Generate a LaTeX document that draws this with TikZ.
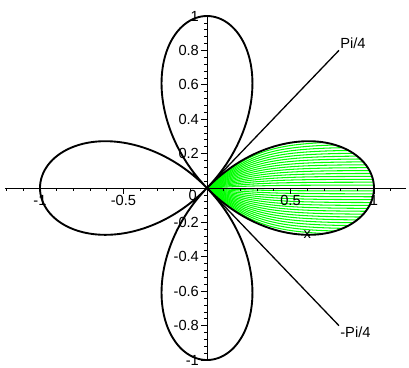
\documentclass[tikz,border=0pt]{standalone}
\usepackage{fontspec}
\setmainfont{Liberation Sans}
\begin{document}
\begin{tikzpicture}[x=5cm,y=5.15cm,
  curve/.style={line width=1.6pt,line join=round},
  fillline/.style={green,line width=0.9pt},
  raystyle/.style={line width=1.1pt},
  axis/.style={line width=0.6pt},
  lbl/.style={inner sep=1pt,font=\fontsize{12.5}{14}\selectfont}]
  \useasboundingbox (-1.2395,-1.0407) rectangle (1.2096,1.093);
  % shaded leaf between -Pi/4 and Pi/4
  \begin{scope}
    \clip plot[domain=-45:45,samples=91,variable=\t] ({cos(2*\t)*cos(\t)},{cos(2*\t)*sin(\t)}) -- cycle;
    \foreach \h in {0.017,0.034,...,0.36} {
      \draw[fillline] plot[domain=0:1.05,samples=60,variable=\s] (\s,{\h*tanh(\s/0.33)});
      \draw[fillline] plot[domain=0:1.05,samples=60,variable=\s] (\s,{-\h*tanh(\s/0.33)});
    }
  \end{scope}
  % axes
  \draw[axis] (-1.21,0) -- (1.19,0);
  \draw[axis] (0,-1) -- (0,1);
  \foreach \i in {-12,...,11}
    \draw[axis] (\i/10,0) -- ++(0,-2.5pt);
  \foreach \i in {-10,-5,5,10}
    \draw[axis] (\i/10,0) -- ++(0,-5pt);
  \foreach \i in {-25,...,25}
    \draw[axis] (0,\i/25) -- ++(-2.5pt,0);
  \foreach \i in {-5,...,5}
    \draw[axis] (0,\i/5) -- ++(-5pt,0);
  % tick labels
  \node[lbl] (xm1) at (-1,-0.075) {-1};
  \node[lbl] (xm05) at (-0.5,-0.075) {-0.5};
  \node[lbl] (x0) at (-0.085,-0.045) {0};
  \node[lbl] (x05) at (0.5,-0.075) {0.5};
  \node[lbl] (x1) at (1,-0.075) {1};
  \node[lbl] (xname) at (0.6,-0.27) {x};
  \foreach \v/\t in {1/1,0.8/0.8,0.6/0.6,0.4/0.4,0.2/0.2,-0.2/-0.2,-0.4/-0.4,-0.6/-0.6,-0.8/-0.8,-1/-1}
    \node[lbl,anchor=east] (y\t) at (-0.04,\v) {\t};
  % rose r = cos(2 theta)
  \draw[curve] plot[domain=0:360,samples=361,smooth,variable=\t] ({cos(2*\t)*cos(\t)},{cos(2*\t)*sin(\t)}) -- cycle;
  % the two rays
  \coordinate (O) at (0,0);
  \coordinate (up) at (0.79,0.8);
  \coordinate (dn) at (0.79,-0.8);
  \draw[raystyle] (O) -- (up);
  \draw[raystyle] (O) -- (dn);
  \node[lbl,anchor=south west] (pi4) at (up) {Pi/4};
  \node[lbl,anchor=north west] (mpi4) at (dn) {-Pi/4};
\end{tikzpicture}
\end{document}
